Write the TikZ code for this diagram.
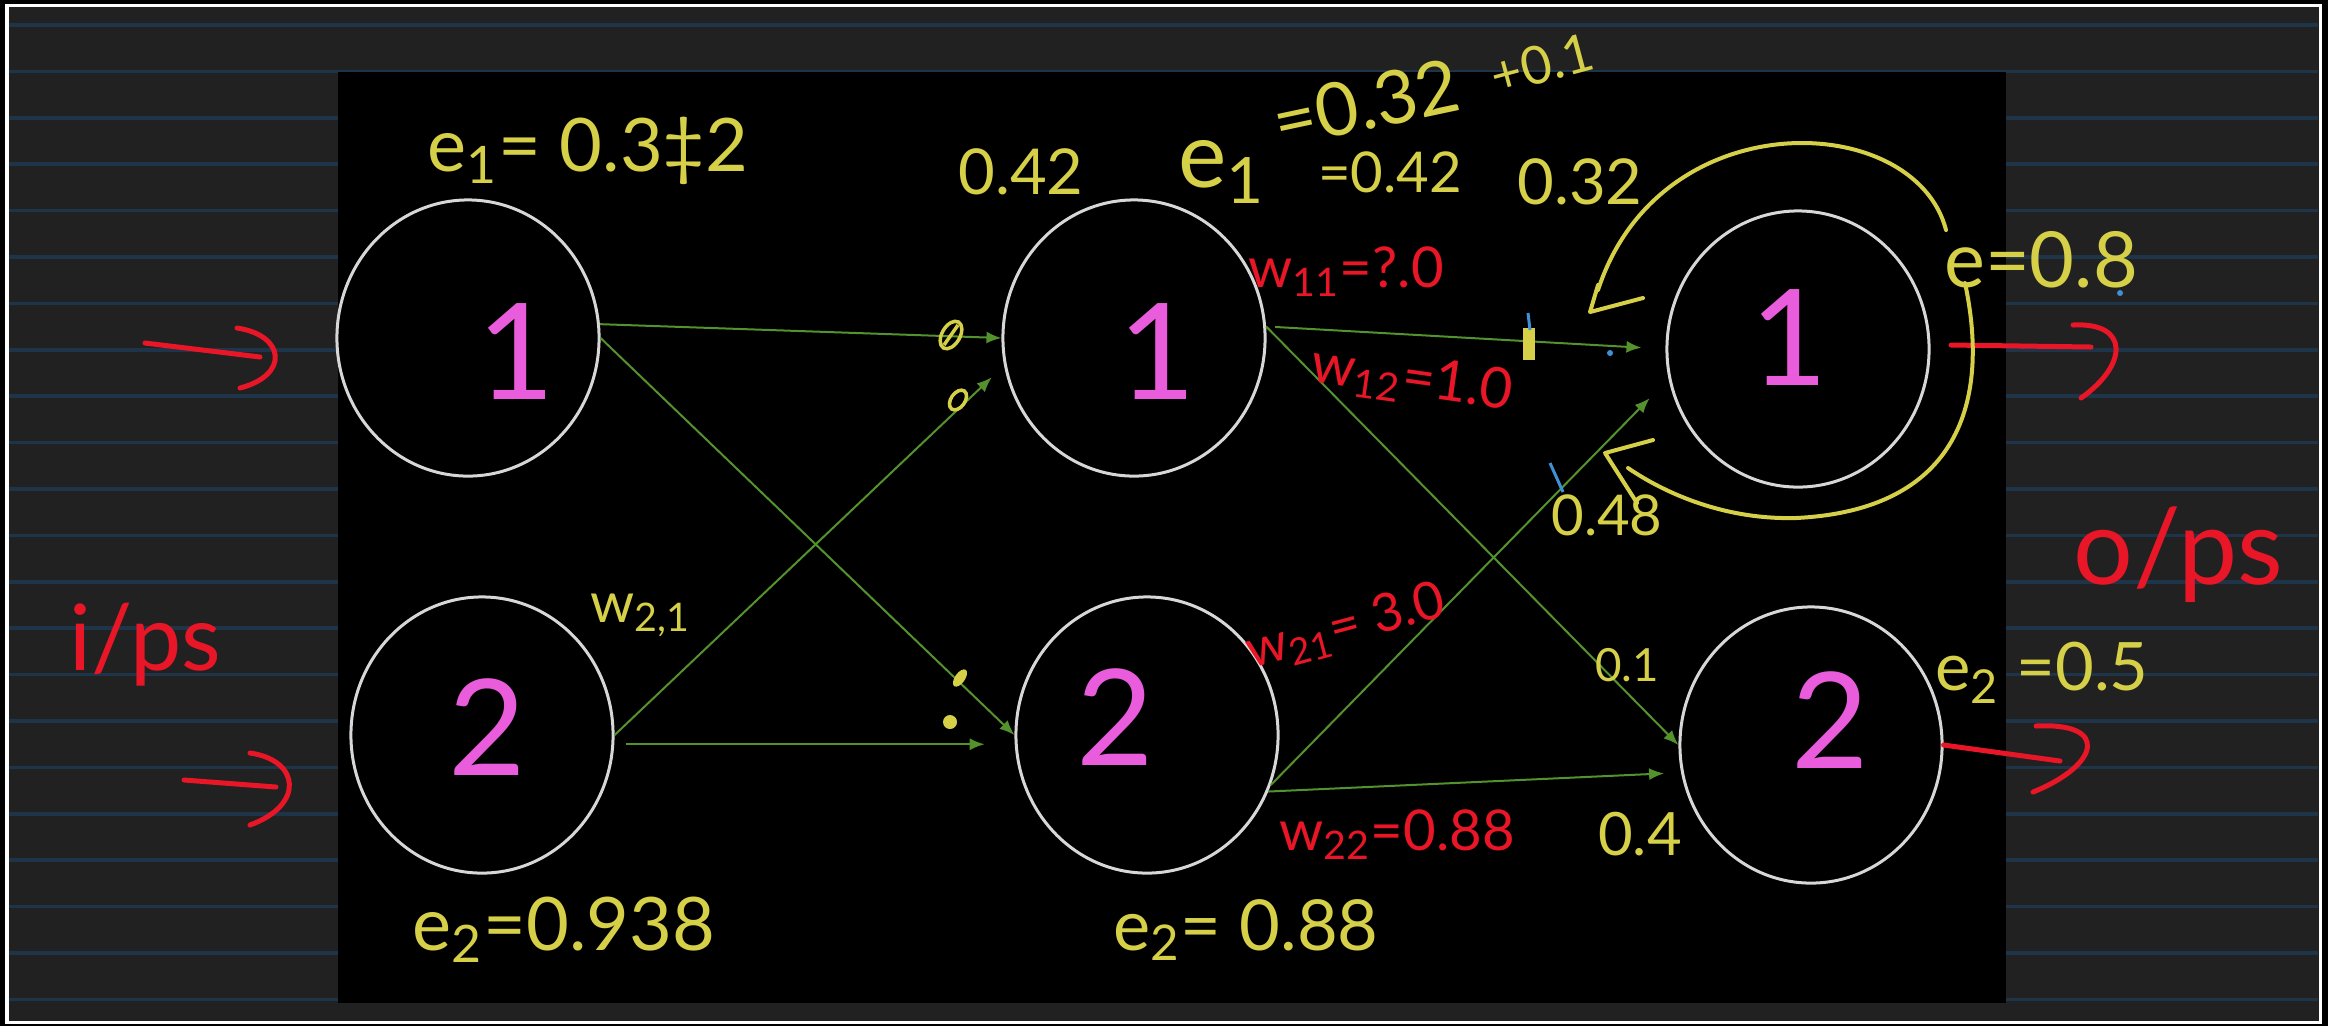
\documentclass[tikz,border=0pt]{standalone}
\usepackage{fontspec}
\setmainfont{Lato}
\usepackage{xcolor}
\definecolor{fondo}{RGB}{33,33,33}
\definecolor{raya}{RGB}{30,52,72}
\definecolor{tiza}{RGB}{215,215,215}
\definecolor{verde}{RGB}{84,146,46}
\definecolor{amarillo}{RGB}{214,208,72}
\definecolor{rosa}{RGB}{233,92,220}
\definecolor{rojo}{RGB}{232,22,38}
\definecolor{azul}{RGB}{64,144,214}
\usepackage{tikz}
\usetikzlibrary{arrows.meta,calc,shapes.geometric}

\tikzset{
  neurona/.style={ellipse,draw=tiza,line width=0.3mm,minimum width=2.62cm,minimum height=2.76cm,inner sep=0pt},
  num/.style={rosa,font=\fontsize{38}{40}\selectfont,inner sep=0pt},
  peso/.style={verde,line width=0.2mm,-{Latex[length=1.5mm,width=1.2mm]}},
  nota/.style={amarillo,inner sep=0pt},
  notar/.style={rojo,inner sep=0pt,font=\fontsize{16}{18}\selectfont},
  trazo/.style={rojo,line width=0.5mm,line cap=round},
  lazo/.style={amarillo,line width=0.4mm,line cap=round,line join=round},
  marca/.style={amarillo,line width=0.35mm},
}
\newcommand{\fs}[1]{\fontsize{#1}{#1}\selectfont}

\begin{document}
\begin{tikzpicture}[x=0.01cm,y=-0.01cm]
  \useasboundingbox (0,0) rectangle (2328,1026);
  % hoja rayada
  \fill[black] (0,0) rectangle (2328,1026);
  \fill[fondo,draw=white,line width=0.3mm] (7,5) rectangle (2320,1022);
  \foreach \k in {0,...,21}{\draw[raya,line width=0.35mm] (9,25+46.4*\k) -- (2318,25+46.4*\k);}
  \fill[black] (338,72) rectangle (2006,1003);

  % neuronas
  \node[neurona] (A1) at (468,338) {};
  \node[neurona] (A2) at (482,735) {};
  \node[neurona] (B1) at (1134,338) {};
  \node[neurona] (B2) at (1147,735) {};
  \node[neurona] (C1) at (1798,349) {};
  \node[neurona] (C2) at (1811,745) {};
  \node[num] (nA1) at (516,352) {1};
  \node[num] (nA2) at (487,727) {2};
  \node[num] (nB1) at (1157,352) {1};
  \node[num] (nB2) at (1115,717) {2};
  \node[num] (nC1) at (1789,338) {1};
  \node[num] (nC2) at (1830,720) {2};

  % pesos
  \draw[peso] (A1.6) -- (B1.west);
  \draw[peso] (A1.east) -- (B2.west);
  \draw[peso,shorten >=1.7mm] (A2.east) -- (B1.192);
  \draw[peso,shorten <=1.2mm,shorten >=3mm] (A2.-4) -- (B2.184);
  \draw[peso,shorten <=0.9mm,shorten >=2.4mm] (B1.5) -- (C1.west);
  \draw[peso] (B1.5) -- (C2.west);
  \draw[peso,shorten >=2.7mm] (B2.-22) -- (C1.193);
  \draw[peso,shorten >=1.7mm] (B2.-25) -- (C2.192);

  % entradas y salidas
  \coordinate (in1) at (145,343);
  \coordinate (in2) at (184,780);
  \coordinate (out1) at (2091,347);
  \coordinate (out2) at (2060,761);
  \draw[trazo] (in1) -- (260,357);
  \draw[trazo] (237,328) .. controls (285,335) and (290,375) .. (240,388);
  \draw[trazo] (in2) -- (276,787);
  \draw[trazo] (250,753) .. controls (300,760) and (305,805) .. (250,825);
  \draw[trazo] (1951,345) -- (out1);
  \draw[trazo] (2073,325) .. controls (2130,322) and (2128,365) .. (2081,398);
  \draw[trazo] (C2.east) -- (out2);
  \draw[trazo] (2036,726) .. controls (2110,722) and (2100,765) .. (2033,792);
  \node[rojo,font=\fs{26},inner sep=0pt] (ips) at (145,645) {i/ps};
  \node[rojo,font=\fs{30},inner sep=0pt] (ops) at (2178,555) {o/ps};

  % lazo de error
  \draw[lazo] (1946,230) .. controls (1915,110) and (1660,100) .. (1598,290);
  \draw[lazo] (1598,285) -- (1590,312) -- (1643,298);
  \draw[lazo] (1965,283) .. controls (1990,400) and (1960,510) .. (1796,518)
    .. controls (1720,520) and (1660,490) .. (1628,468);
  \draw[lazo] (1653,440) -- (1605,453) -- (1637,503);

  % marcas
  \draw[marca,rotate around={-30:(951,335)}] (951,335) ellipse (9 and 15);
  \draw[marca] (944,345) -- (958,325);
  \draw[marca,rotate around={-35:(958,400)}] (958,400) ellipse (7 and 11);
  \fill[amarillo,rotate around={-35:(960,678)}] (960,678) ellipse (5 and 10);
  \fill[amarillo] (950,722) circle (7);
  \fill[amarillo] (1523,328) rectangle (1535,360);
  \draw[azul,line width=0.3mm] (1528,313) -- (1530,330);
  \draw[azul,line width=0.3mm] (1550,463) -- (1563,492);
  \fill[azul] (1610,353) circle (3);
  \fill[azul] (2120,293) circle (3);

  % errores
  \node[nota,font=\fs{21}] (eA1) at (588,151) {e\textsubscript{1}= 0.3‡2};
  \node[nota,font=\fs{21}] (eA2) at (564,930) {e\textsubscript{2}=0.938};
  \node[nota,font=\fs{16}] (wA2) at (641,615) {w\textsubscript{2,1}};
  \node[nota,font=\fs{18}] (vB1) at (1021,172) {0.42};
  \node[nota,font=\fs{26}] (eB1) at (1222,172) {e\textsubscript{1}};
  \node[nota,font=\fs{21},rotate=12] (sB1) at (1366,103) {=0.32};
  \node[nota,font=\fs{15},rotate=15] (mB1) at (1542,64) {+0.1};
  \node[nota,font=\fs{16}] (tB1) at (1390,172) {=0.42};
  \node[nota,font=\fs{18}] (vC1) at (1580,182) {0.32};
  \node[nota,font=\fs{22}] (eC1) at (2041,260) {e=0.8};
  \node[nota,font=\fs{16}] (dC1) at (1607,515) {0.48};
  \node[nota,font=\fs{13}] (dC2) at (1627,665) {0.1};
  \node[nota,font=\fs{19}] (eC2) at (2042,673) {e\textsubscript{2} =0.5};
  \node[nota,font=\fs{17}] (vC2) at (1640,834) {0.4};
  \node[nota,font=\fs{20}] (eB2) at (1246,930) {e\textsubscript{2}= 0.88};

  % pesos en rojo
  \node[notar] (w11) at (1346,272) {w\textsubscript{11}=?.0};
  \node[notar,rotate=-8] (w12) at (1412,380) {w\textsubscript{12}=1.0};
  \node[notar,font=\fs{15},rotate=15] (w21) at (1346,628) {w\textsubscript{21}= 3.0};
  \node[notar] (w22) at (1397,835) {w\textsubscript{22}=0.88};
\end{tikzpicture}
\end{document}
